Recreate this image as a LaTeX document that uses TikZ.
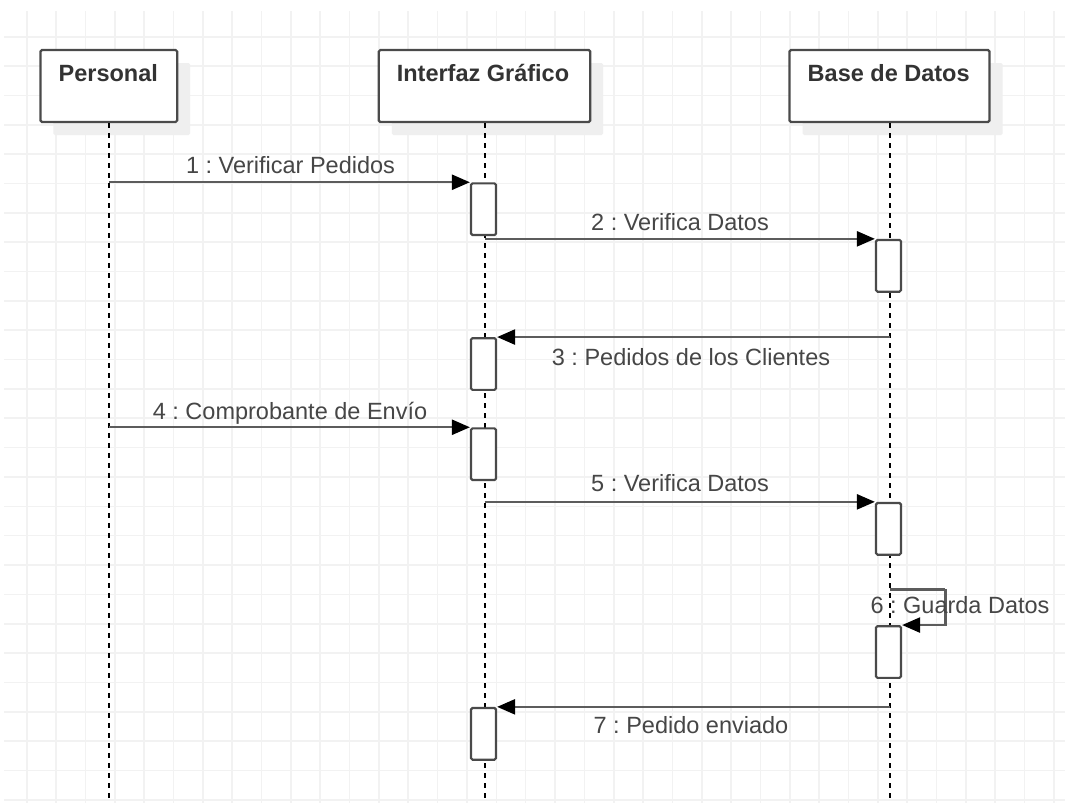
\documentclass[tikz,border=0pt]{standalone}
\usepackage{fontspec}
\setmainfont{Liberation Sans}
\usetikzlibrary{arrows.meta,shadows}
\definecolor{gridc}{HTML}{F2F2F2}
\definecolor{linec}{HTML}{5C5C5C}
\definecolor{boxc}{HTML}{4A4A4A}
\definecolor{txtc}{HTML}{464646}
\definecolor{shadowc}{HTML}{EFEFEF}
\tikzset{
  head/.style={draw=boxc, line width=2.2, fill=white, minimum height=72, inner sep=0,
    rounded corners=1.5, drop shadow={shadow xshift=13pt, shadow yshift=-13pt, fill=shadowc, opacity=1}},
  headtxt/.style={anchor=base, inner sep=0, text=black!80, font=\fontsize{23.5}{28}\selectfont\bfseries},
  act/.style={draw=boxc, line width=2.2, fill=white, minimum width=25, minimum height=51.7, inner sep=0, rounded corners=1.5},
  life/.style={black, line width=2, dash pattern=on 5pt off 5pt},
  msg/.style={linec, line width=2.4, -{Triangle[length=18pt,width=15pt,color=black,fill=black]}},
  lbl/.style={anchor=base, inner sep=0, text=txtc, font=\fontsize{23.5}{28}\selectfont},
  gridl/.style={gridc, line width=1.6}
}
\frenchspacing
\begin{document}
\frenchspacing
\begin{tikzpicture}[x=1pt,y=-1pt]
\useasboundingbox (0,0) rectangle (1065,803);
\fill[white] (0,0) rectangle (1065,803);
% grid
\foreach \k in {0,...,35} \draw[gridl] ({26.7+29.35*\k},11) -- ({26.7+29.35*\k},803);
\foreach \k in {0,...,26} \draw[gridl] (4,{36.7+29.35*\k}) -- (1065,{36.7+29.35*\k});
% headers
\node[head, minimum width=136.7] (per) at (108.8,86) {};
\node[head, minimum width=211.4] (ig) at (484.5,86) {};
\node[head, minimum width=200] (bd) at (889.5,86) {};
\node[headtxt] (pert) at (108.3,81.7) {Personal};
\node[headtxt] (igt) at (483,81.7) {Interfaz Gráfico};
\node[headtxt] (bdt) at (888.7,81.7) {Base de Datos};
% lifelines
\coordinate (bot) at (0,803);
\draw[life] (per.south) -- (per.south |- bot);
\draw[life] (ig.south) -- (ig.south |- bot);
\draw[life] (bd.south) -- (bd.south |- bot);
% activations
\node[act] (a1) at (483.5,209.2) {};
\node[act] (a2) at (888.5,265.8) {};
\node[act] (a3) at (483.5,364) {};
\node[act] (a4) at (483.5,454.2) {};
\node[act] (a5) at (888.5,528.8) {};
\node[act] (a6) at (888.5,652) {};
\node[act] (a7) at (483.5,733.8) {};
% messages
\draw[msg] (per.south |- a1.north) -- (a1.north west);
\draw[msg] (ig.south |- a2.north) -- (a2.north west);
\draw[msg] (bd.south |- a3.north) -- (a3.north east);
\draw[msg] (per.south |- a4.north) -- (a4.north west);
\draw[msg] (ig.south |- a5.north) -- (a5.north west);
\coordinate (s6) at (889.5,589.3);
\coordinate (c6) at (945.3,589.3);
\draw[msg, -] (s6) -- (c6);
\draw[msg] (c6) |- (a6.north east);
\draw[msg] (bd.south |- a7.north) -- (a7.north east);
% labels
\node[lbl] (l1) at (290.5,173) {1 : Verificar Pedidos};
\node[lbl] (l2) at (680,230) {2 : Verifica Datos};
\node[lbl] (l3) at (691,365) {3 : Pedidos de los Clientes};
\node[lbl] (l4) at (290,419) {4 : Comprobante de Envío};
\node[lbl] (l5) at (680,491.7) {5 : Verifica Datos};
\node[lbl] (l6) at (960,613.3) {6 : Guarda Datos};
\node[lbl] (l7) at (691,733.3) {7 : Pedido enviado};
\end{tikzpicture}
\end{document}
